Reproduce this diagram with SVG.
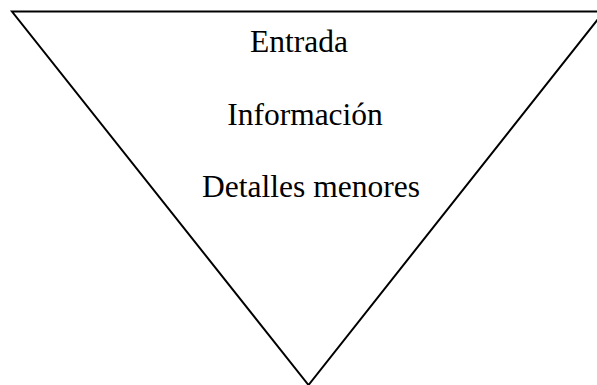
<svg xmlns="http://www.w3.org/2000/svg" width="597" height="385" viewBox="0 0 597 385">
<style>
.shape{fill:#ffffff;stroke:#000000;stroke-width:2;stroke-linejoin:miter}
.lbl{font-family:"Liberation Serif","Times New Roman",serif;font-size:31.5px;fill:#000000;text-anchor:middle}
</style>
<rect x="0" y="0" width="597" height="385" fill="#ffffff"/>
<g id="triangle">
<polygon class="shape" points="12,11.5 604,11.5 308.5,385"/>
</g>
<g id="connectors"></g>
<g id="entrada"><text class="lbl" x="299" y="52">Entrada</text></g>
<g id="informacion"><text class="lbl" x="305" y="125">Información</text></g>
<g id="detalles"><text class="lbl" x="311" y="197">Detalles menores</text></g>
</svg>
